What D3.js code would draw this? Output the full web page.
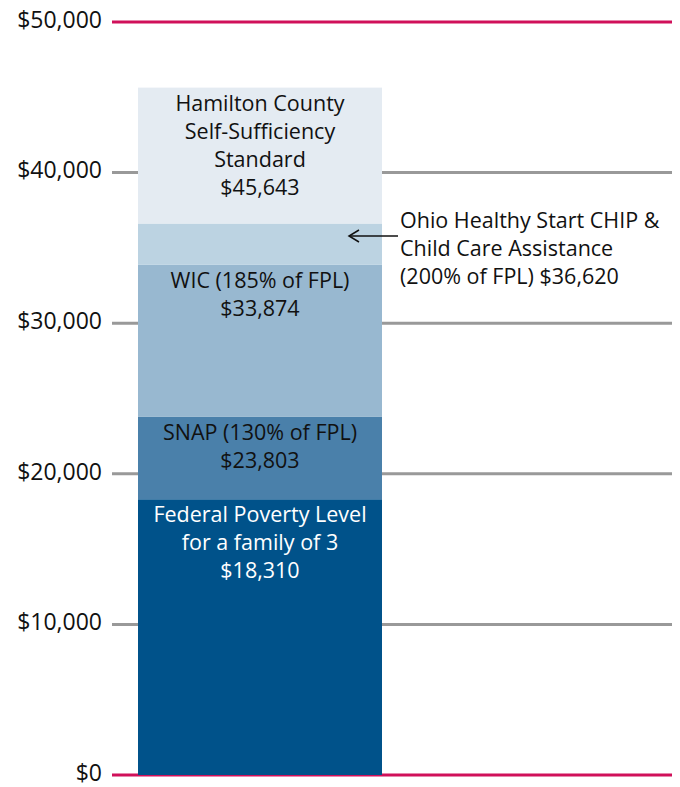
<!DOCTYPE html>
<html>
<head>
<meta charset="utf-8">
<script src="https://cdn.jsdelivr.net/npm/d3@7"></script>
<style>
  body { margin: 0; background: #fff; }
  svg text { font-family: "Open Sans", "DejaVu Sans", sans-serif; }
</style>
</head>
<body>
<svg width="680" height="787"></svg>
<script>
const levels = ["Federal Poverty Level", "SNAP", "WIC", "CHIP", "Self-Sufficiency"];
const tops = [18310, 23803, 33874, 36620, 45643];
const fills = ["#00528a", "#4a80aa", "#98b8d0", "#bcd3e2", "#e4ebf2"];
const labels = [
    ["Federal Poverty Level", "for a family of 3", "$18,310"],
    ["SNAP (130% of FPL)", "$23,803"],
    ["WIC (185% of FPL)", "$33,874"],
    [],
    ["Hamilton County", "Self-Sufficiency", "Standard", "$45,643"]
];
const labelColors = ["#fff", "#111", "#111", "#111", "#111"];
const ticks = [0, 10000, 20000, 30000, 40000, 50000];
const calloutLines = ["Ohio Healthy Start CHIP &", "Child Care Assistance", "(200% of FPL) $36,620"];

const svg = d3.select("svg");

const y = d3.scaleLinear().domain([0, 50000]).range([775, 22]);

const barX = 138, barW = 244;

// gridlines
svg.selectAll(".grid")
    .data(ticks)
    .enter().append("line")
        .attr("x1", 112)
        .attr("x2", 672)
        .attr("y1", (d) => y(d))
        .attr("y2", (d) => y(d))
        .attr("stroke", (d) => (d === 0 || d === 50000) ? "#d0105a" : "#999")
        .attr("stroke-width", 3);

svg.selectAll(".tick")
    .data(ticks)
    .enter().append("text")
        .attr("x", 102)
        .attr("y", (d) => y(d))
        .attr("dy", "0.25em")
        .attr("text-anchor", "end")
        .attr("font-size", 23)
        .attr("fill", "#111")
        .text((d) => "$" + d3.format(",")(d));

const segs = tops.map((t, i) => ({ lo: i ? tops[i - 1] : 0, hi: t, i }));

svg.selectAll(".seg")
    .data(segs)
    .enter().append("rect")
        .attr("x", barX)
        .attr("width", barW)
        .attr("y", (d) => y(d.hi))
        .attr("height", (d) => y(d.lo) - y(d.hi))
        .attr("fill", (d) => fills[d.i]);

// labels anchored near top of each segment
const lineH = 28;
segs.forEach((s) => {
    const lines = labels[s.i];
    const t = svg.append("text")
        .attr("text-anchor", "middle")
        .attr("font-size", 21.5)
        .attr("fill", labelColors[s.i]);
    lines.forEach((ln, k) => {
        t.append("tspan")
            .attr("x", barX + barW / 2)
            .attr("y", y(s.hi) + 23 + k * lineH)
            .text(ln);
    });
});

// callout arrow
const arrowY = 236;
svg.append("line")
    .attr("x1", 349).attr("x2", 398)
    .attr("y1", arrowY).attr("y2", arrowY)
    .attr("stroke", "#111").attr("stroke-width", 1.5);
svg.append("path")
    .attr("d", `M359,${arrowY - 6} L349,${arrowY} L359,${arrowY + 6}`)
    .attr("fill", "none").attr("stroke", "#111").attr("stroke-width", 1.5);

const callout = svg.append("text")
    .attr("font-size", 21.5)
    .attr("fill", "#111");
calloutLines.forEach((ln, k) => {
    callout.append("tspan")
        .attr("x", 400)
        .attr("y", 228 + k * lineH)
        .text(ln);
});
</script>
</body>
</html>
